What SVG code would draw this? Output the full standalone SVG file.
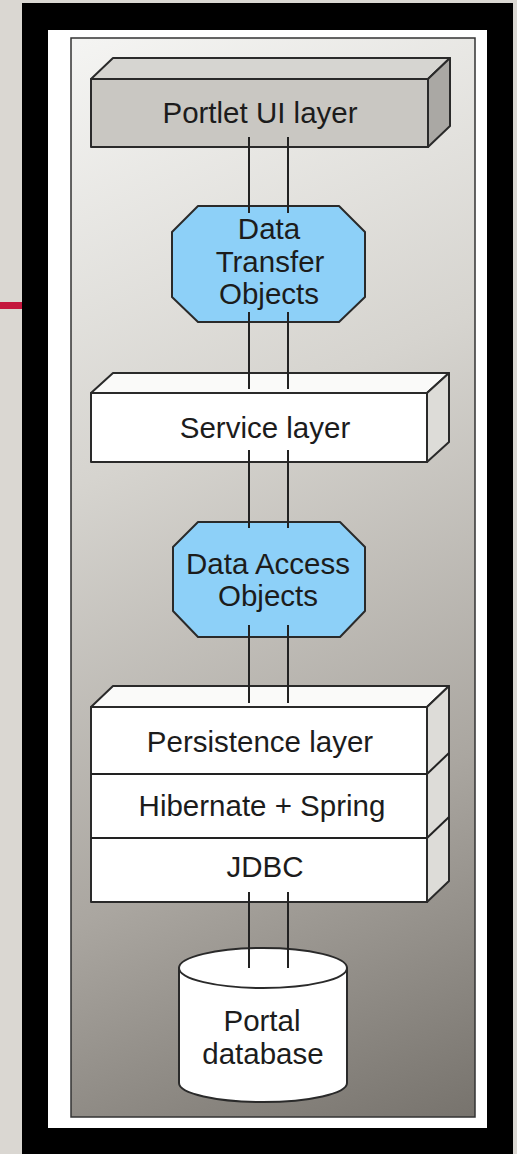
<svg xmlns="http://www.w3.org/2000/svg" width="517" height="1154" viewBox="0 0 517 1154">
  <defs>
    <linearGradient id="panelGrad" gradientUnits="userSpaceOnUse" x1="40" y1="60" x2="500" y2="1120">
      <stop offset="0" stop-color="#f4f4f2"/>
      <stop offset="0.35" stop-color="#d6d4cf"/>
      <stop offset="0.7" stop-color="#aaa6a0"/>
      <stop offset="1" stop-color="#75716b"/>
    </linearGradient>
  </defs>
  <style>
    .edge { stroke: #222; stroke-width: 2; fill: none; }
    .shape { stroke: #2a2a2a; stroke-width: 2; stroke-linejoin: round; }
    .front { fill: #ffffff; }
    .top { fill: #fafaf9; }
    .side { fill: #dddcd8; }
    .blue { fill: #8dd0f8; }
    .lbl { font-family: "Liberation Sans", Arial, sans-serif; font-size: 29.5px; fill: #1c1c1c; text-anchor: middle; }
  </style>

  <!-- page background -->
  <rect x="0" y="0" width="517" height="1154" fill="#dad7d2"/>
  <rect x="0" y="302" width="22" height="7" fill="#c4173d"/>
  <!-- frame -->
  <rect x="22" y="3" width="491" height="1151" fill="#000"/>
  <rect x="48" y="30" width="439" height="1098" fill="#fff"/>
  <rect x="71" y="38" width="404" height="1079" fill="url(#panelGrad)" stroke="#333" stroke-width="1.5"/>

  <!-- Portlet UI layer -->
  <g id="portlet-ui-layer">
    <polygon class="shape" fill="#d6d5d1" points="91,79 113,58 450,58 428,79"/>
    <polygon class="shape" fill="#aaa8a4" points="428,79 450,58 450,126 428,147"/>
    <rect class="shape" fill="#c9c7c2" x="91" y="79" width="337" height="68"/>
    <text class="lbl" x="260" y="123">Portlet UI layer</text>
  </g>

  <!-- Data Transfer Objects -->
  <g id="data-transfer-objects">
    <polygon class="shape blue" points="198,206 339,206 365,232 365,297 339,322 198,322 172,297 172,232"/>
    <text class="lbl" x="269" y="239">Data</text>
    <text class="lbl" x="270" y="272">Transfer</text>
    <text class="lbl" x="269" y="304">Objects</text>
  </g>

  <!-- Service layer -->
  <g id="service-layer">
    <polygon class="shape top" points="91,393 113,373 449,373 427,393"/>
    <polygon class="shape side" points="427,393 449,373 449,442 427,462"/>
    <rect class="shape front" x="91" y="393" width="336" height="69"/>
    <text class="lbl" x="265" y="438">Service layer</text>
  </g>

  <!-- Data Access Objects -->
  <g id="data-access-objects">
    <polygon class="shape blue" points="198,522 340,522 365,547 365,611 340,637 198,637 173,611 173,547"/>
    <text class="lbl" x="268" y="574">Data Access</text>
    <text class="lbl" x="268" y="606">Objects</text>
  </g>

  <!-- Persistence stack -->
  <g id="persistence-stack">
    <polygon class="shape top" points="91,707 113,686 449,686 427,707"/>
    <polygon class="shape side" points="427,707 449,686 449,881 427,902"/>
    <line class="edge" x1="427" y1="774" x2="449" y2="753"/>
    <line class="edge" x1="427" y1="838" x2="449" y2="817"/>
    <rect class="shape front" x="91" y="707" width="336" height="195"/>
    <line class="edge" x1="91" y1="774" x2="427" y2="774"/>
    <line class="edge" x1="91" y1="838" x2="427" y2="838"/>
    <text class="lbl" x="260" y="752">Persistence layer</text>
    <text class="lbl" x="262" y="816">Hibernate + Spring</text>
    <text class="lbl" x="265" y="877">JDBC</text>
  </g>

  <!-- Portal database -->
  <g id="portal-database">
    <path class="shape front" d="M179,968 L179,1083 A84,19 0 0 0 347,1083 L347,968 Z"/>
    <ellipse class="shape front" cx="263" cy="968" rx="84" ry="20"/>
    <text class="lbl" x="262" y="1031">Portal</text>
    <text class="lbl" x="263" y="1064">database</text>
  </g>

  <!-- connectors -->
  <g id="connectors">
    <line class="edge" x1="249" y1="137" x2="249" y2="213"/>
    <line class="edge" x1="288" y1="137" x2="288" y2="213"/>
    <line class="edge" x1="249" y1="312" x2="249" y2="389"/>
    <line class="edge" x1="288" y1="312" x2="288" y2="389"/>
    <line class="edge" x1="249" y1="450" x2="249" y2="528"/>
    <line class="edge" x1="288" y1="450" x2="288" y2="528"/>
    <line class="edge" x1="249" y1="625" x2="249" y2="703"/>
    <line class="edge" x1="288" y1="625" x2="288" y2="703"/>
    <line class="edge" x1="249" y1="892" x2="249" y2="968"/>
    <line class="edge" x1="288" y1="892" x2="288" y2="968"/>
  </g>
</svg>
